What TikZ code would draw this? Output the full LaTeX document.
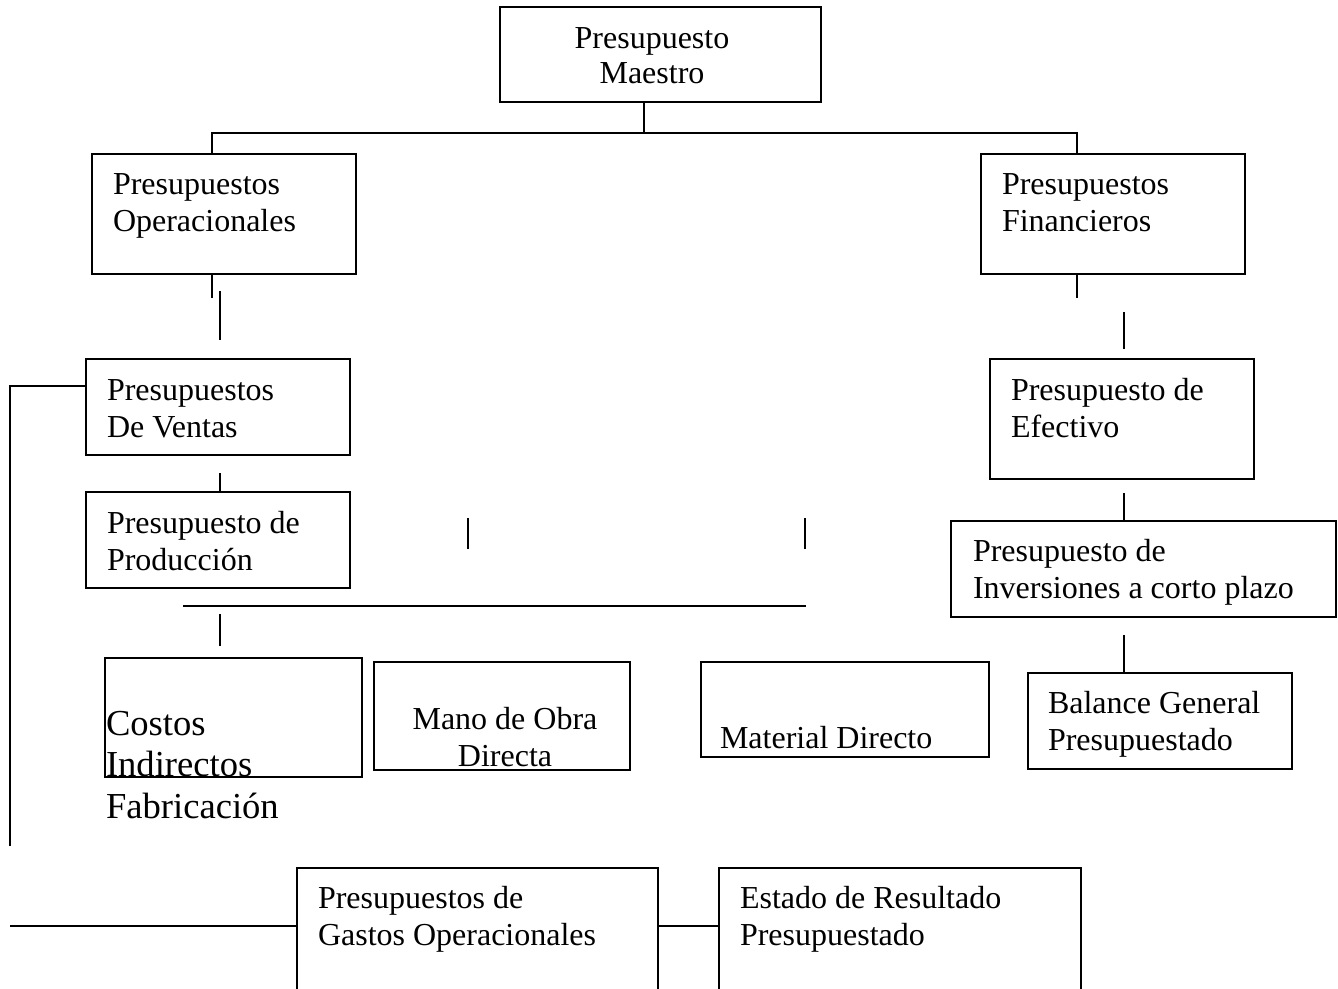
\documentclass[tikz,border=0pt]{standalone}
\usepackage{fontspec}
\setmainfont{Liberation Serif}
\begin{document}
\begin{tikzpicture}[x=1pt,y=-1pt,
  boxst/.style={draw,line width=1.6pt,inner sep=0pt,outer sep=0pt},
  lnk/.style={line width=1.4pt},
  txt/.style={inner sep=0pt,outer sep=0pt,align=left,anchor=base west,font=\fontsize{32}{37}\selectfont},
  bigtxt/.style={inner sep=0pt,outer sep=0pt,align=left,anchor=base west,font=\fontsize{36.6}{41.5}\selectfont}]
\useasboundingbox (0,0) rectangle (1338,988);
% boxes: name x1 y1 x2 y2
\newcommand{\mybx}[5]{\node[boxst,minimum width={#4-#2},minimum height={#5-#3}] (#1) at ({(#2+#4)/2},{(#3+#5)/2}) {};}
\mybx{master}{500}{7}{821}{102}
\mybx{op}{92}{154}{356}{274}
\mybx{fin}{981}{154}{1245}{274}
\mybx{ventas}{86}{359}{350}{455}
\mybx{prod}{86}{492}{350}{588}
\mybx{efec}{990}{359}{1254}{479}
\mybx{inv}{951}{521}{1336}{617}
\mybx{costos}{105}{658}{362}{777}
\mybx{mano}{374}{662}{630}{770}
\mybx{mat}{701}{662}{989}{757}
\mybx{bal}{1028}{673}{1292}{769}
\mybx{gastos}{297}{868}{658}{1000}
\mybx{estado}{719}{868}{1081}{1000}
% texts (anchored at the baseline of the last line)
\node[txt,align=center,anchor=base] (masterT) at (652,83) {Presupuesto\\[-2pt]Maestro};
\node[txt] (opT) at (113,231) {Presupuestos\\Operacionales};
\node[txt] (finT) at (1002,231) {Presupuestos\\Financieros};
\node[txt] (ventasT) at (107,437) {Presupuestos\\De Ventas};
\node[txt] (prodT) at (107,570) {Presupuesto de\\Producción};
\node[txt] (efecT) at (1011,437) {Presupuesto de\\Efectivo};
\node[txt] (invT) at (973,598) {Presupuesto de\\Inversiones a corto plazo};
\node[txt,align=center,anchor=base] (manoT) at (505,766) {Mano de Obra\\Directa};
\node[txt] (matT) at (720,748) {Material Directo};
\node[txt] (balT) at (1048,750) {Balance General\\Presupuestado};
\node[txt] (gastosT) at (318,945) {Presupuestos de\\Gastos Operacionales};
\node[txt] (estadoT) at (740,945) {Estado de Resultado\\Presupuestado};
\node[bigtxt] (costosT) at (106,818) {Costos\\Indirectos\\Fabricación};
% connector points
\coordinate (mJ) at (644,133);
\coordinate (opJ) at (212,133);
\coordinate (finJ) at (1077,133);
\coordinate (opS) at (212,298);
\coordinate (finS) at (1077,298);
\coordinate (a1) at (220,291);
\coordinate (a2) at (220,340);
\coordinate (b1) at (1124,312);
\coordinate (b2) at (1124,349);
\coordinate (vL) at (10,386);
\coordinate (vB) at (10,846);
\coordinate (vp) at (220,473);
\coordinate (ei) at (1124,493);
\coordinate (s1a) at (468,518);
\coordinate (s1b) at (468,549);
\coordinate (s2a) at (805,518);
\coordinate (s2b) at (805,549);
\coordinate (hL) at (183,606);
\coordinate (hR) at (806,606);
\coordinate (c1) at (220,614);
\coordinate (c2) at (220,646);
\coordinate (ib) at (1124,635);
\coordinate (gL) at (10,926);
\coordinate (gR) at (658,926);
% connectors
\draw[lnk] (master.south -| mJ) -- (mJ);
\draw[lnk] (op.north -| opJ) -- (opJ) -- (finJ) -- (fin.north -| finJ);
\draw[lnk] (op.south -| opS) -- (opS);
\draw[lnk] (a1) -- (a2);
\draw[lnk] (fin.south -| finS) -- (finS);
\draw[lnk] (b1) -- (b2);
\draw[lnk] (ventas.west |- vL) -- (vL) -- (vB);
\draw[lnk] (vp) -- (prod.north -| vp);
\draw[lnk] (ei) -- (inv.north -| ei);
\draw[lnk] (s1a) -- (s1b);
\draw[lnk] (s2a) -- (s2b);
\draw[lnk] (hL) -- (hR);
\draw[lnk] (c1) -- (c2);
\draw[lnk] (ib) -- (bal.north -| ib);
\draw[lnk] (gL) -- (gastos.west |- gL);
\draw[lnk] (gastos.east |- gR) -- (estado.west |- gR);
\end{tikzpicture}
\end{document}
